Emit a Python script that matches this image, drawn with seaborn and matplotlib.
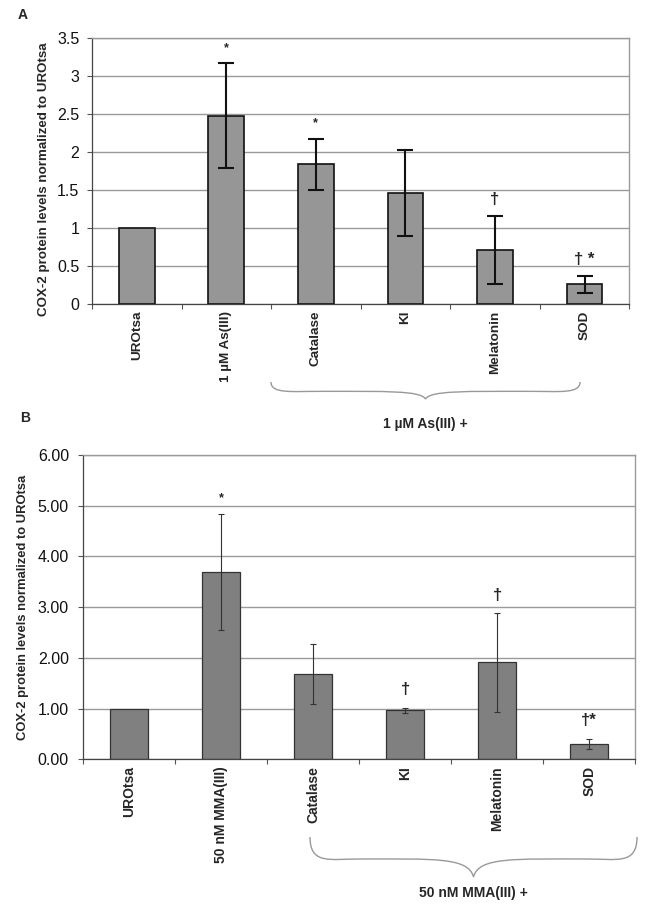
import numpy as np
import pandas as pd
import matplotlib
matplotlib.use("Agg")
import matplotlib.pyplot as plt
from matplotlib.path import Path
from matplotlib.patches import PathPatch
import seaborn as sns

cats_a = ["UROtsa", "1 µM As(III)", "Catalase", "KI", "Melatonin", "SOD"]
vals_a = [1.00, 2.48, 1.84, 1.46, 0.71, 0.26]
err_a = [0.0, 0.69, 0.34, 0.57, 0.45, 0.11]
marks_a = ["", "*", "*", "", "†", "† *"]

cats_b = ["UROtsa", "50 nM MMA(III)", "Catalase", "KI", "Melatonin", "SOD"]
vals_b = [1.00, 3.69, 1.69, 0.97, 1.91, 0.31]
err_b = [0.0, 1.14, 0.59, 0.05, 0.97, 0.10]
marks_b = ["", "*", "", "†", "†", "†*"]

ylabel = "COX-2 protein levels normalized to UROtsa"

sns.set_theme(style="white")
plt.rcParams["font.family"] = ["Liberation Sans", "DejaVu Sans"]

W, H = 654, 907
fig = plt.figure(figsize=(W / 100, H / 100), dpi=100)


def px_axes(l, t, r, b):
    return fig.add_axes([l / W, 1 - b / H, (r - l) / W, (b - t) / H])


def style_axis(ax, cats, yticks, fmt, color, edge, elw_bar, ecolor, elw, cap, vals, errs,
               marks, mark_off, bar_w, xfs, ypad):
    df = pd.DataFrame({"cat": cats, "val": vals})
    sns.barplot(data=df, x="cat", y="val", ax=ax, color=color, width=bar_w,
                edgecolor=edge, linewidth=elw_bar, saturation=1, errorbar=None)
    for i in range(len(cats)):
        if errs[i] > 0:
            ax.errorbar(i, vals[i], yerr=errs[i], fmt="none", ecolor=ecolor,
                        elinewidth=elw, capsize=cap, capthick=elw, zorder=5)
    ax.set_xlim(-0.5, len(cats) - 0.5)
    ax.set_ylim(yticks[0], yticks[-1])
    ax.set_yticks(yticks)
    ax.set_yticklabels([fmt(v) for v in yticks], fontsize=11.5, color="#111111")
    ax.yaxis.grid(True, color="#9a9a9a", linewidth=1.0)
    ax.set_axisbelow(True)
    ax.set_xticks(range(len(cats)))
    ax.set_xticklabels(cats, rotation=90, fontsize=xfs, fontweight="bold",
                       va="top", ha="center")
    ax.tick_params(axis="x", length=0, pad=5)
    ax.set_xticks(np.arange(-0.5, len(cats), 1.0), minor=True)
    ax.tick_params(axis="x", which="minor", length=3.8, color="#555555", width=0.8, bottom=True)
    ax.tick_params(axis="y", length=3.8, color="#555555", width=0.8, left=True, pad=ypad)
    ax.set_xlabel("")
    for side in ["top", "right"]:
        ax.spines[side].set_color("#9a9a9a")
        ax.spines[side].set_linewidth(1.0)
    for side in ["left", "bottom"]:
        ax.spines[side].set_color("#444444")
        ax.spines[side].set_linewidth(0.9)
    for i, m in enumerate(marks):
        if m:
            fs = 12 if "†" in m else 9
            ax.text(i, vals[i] + errs[i] + mark_off, m, ha="center", va="bottom",
                    fontsize=fs, fontweight="bold")


def brace(l, r, top, mid):
    c = (l + r) / 2
    h = mid - top
    pts = [(l, top), (l, top + h * 0.7), (l + 20, top + h * 0.55), (l + 50, top + h * 0.55),
           (c - 40, top + h * 0.55), (c - 5, top + h * 0.5), (c, mid),
           (c + 5, top + h * 0.5), (c + 40, top + h * 0.55), (r - 50, top + h * 0.55),
           (r - 20, top + h * 0.55), (r, top + h * 0.7), (r, top)]
    codes = [Path.MOVETO] + [Path.CURVE4] * 12
    verts = [(x / W, 1 - y / H) for x, y in pts]
    fig.add_artist(PathPatch(Path(verts, codes), transform=fig.transFigure,
                             fill=False, edgecolor="#999999", linewidth=1.0))


# Panel A
axA = px_axes(92, 38.3, 629.3, 304)
style_axis(axA, cats_a, [0, 0.5, 1, 1.5, 2, 2.5, 3, 3.5],
           lambda v: f"{v:g}", "#969696", "#111111", 1.2, "#111111", 1.5, 6,
           vals_a, err_a, marks_a, 0.12, 0.40, 9.7, 5.3)
axA.set_ylabel(ylabel, fontsize=9.6, fontweight="bold")
axA.yaxis.set_label_coords(-0.078, 0.47)

# Panel B
axB = px_axes(83.3, 455, 635.3, 759.3)
style_axis(axB, cats_b, [0, 1, 2, 3, 4, 5, 6],
           lambda v: f"{v:.2f}", "#808080", "#333333", 0.9, "#333333", 0.8, 2.3,
           vals_b, err_b, marks_b, 0.2, 0.41, 10, 6.5)
axB.set_ylabel(ylabel, fontsize=9.4, fontweight="bold")
axB.yaxis.set_label_coords(-0.098, 0.5)

fig.text(23 / W, 1 - 15 / H, "A", fontsize=10, fontweight="bold", ha="center", va="center")
fig.text(25 / W, 1 - 418 / H, "B", fontsize=10, fontweight="bold", ha="center", va="center")

brace(271, 580, 382, 399)
fig.text(425 / W, 1 - 424 / H, "1 µM As(III) +", fontsize=10, fontweight="bold",
         ha="center", va="center")
brace(310, 637, 837, 877)
fig.text(473 / W, 1 - 893 / H, "50 nM MMA(III) +", fontsize=10, fontweight="bold",
         ha="center", va="center")

fig.savefig("out.png", dpi=100, facecolor="white")
